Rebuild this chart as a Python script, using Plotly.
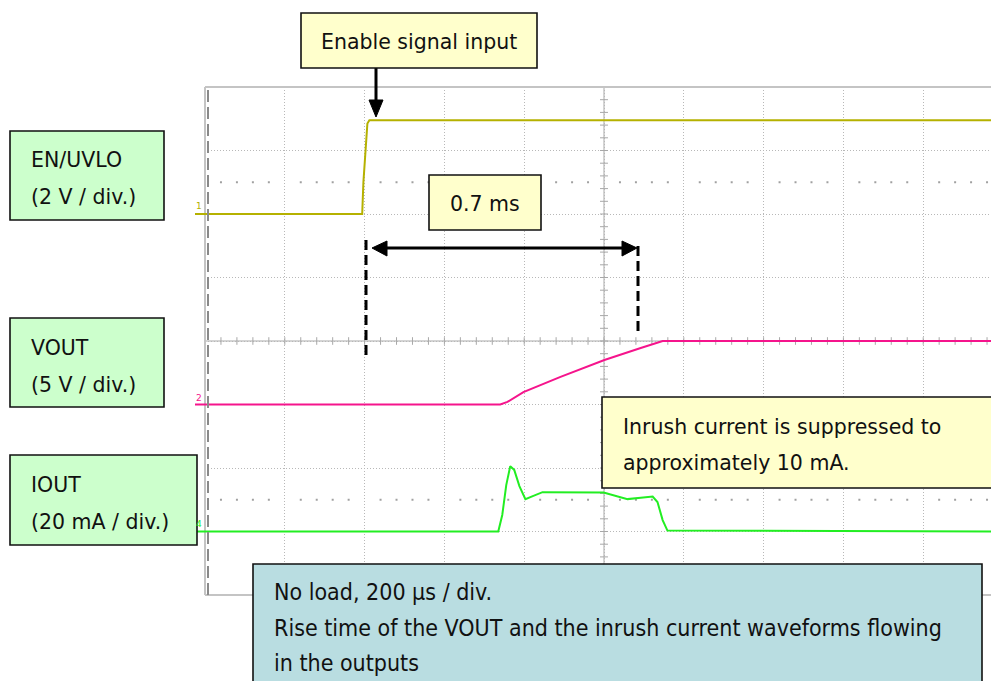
import plotly.graph_objects as go

# ---------------- data ----------------
# time axis: 200 us / div, t = 0 at the left edge of the screen
time_en_us = [0, 394, 397, 402, 407, 412, 2000]
en_uvlo_v = [0, 0, 1.0, 2.0, 2.85, 2.95, 2.95]

time_vout_us = [0, 740, 758, 798, 891, 1001, 1092, 1130, 1147, 2000]
vout_v = [0, 0, 0.2, 0.98, 2.17, 3.5, 4.45, 4.85, 5.0, 5.0]

time_iout_us = [0, 735, 745, 755, 765, 775, 788, 803, 823, 846, 999, 1029,
                1059, 1092, 1109, 1122, 1134, 1147, 1159, 2000]
iout_ma = [0, 0, 5.2, 14.6, 20.6, 19.4, 14.3, 10.2, 11.2, 12.4, 12.3, 11.3,
           10.2, 10.6, 10.9, 11.0, 9.3, 3.6, 0.3, 0]

# channel settings: (volts-or-mA per div, ground offset in divisions)
en_scale, en_offset = 2.0, 2.0
vout_scale, vout_offset = 5.0, -1.0
iout_scale, iout_offset = 20.0, -3.0

time_per_div_us = 200
screen_time_us = 2000

box_texts = {
    "enable": "Enable signal input",
    "delay": "0.7 ms",
    "en": ["EN/UVLO", "(2 V / div.)"],
    "vout": ["VOUT", "(5 V / div.)"],
    "iout": ["IOUT", "(20 mA / div.)"],
    "inrush": ["Inrush current is suppressed to", "approximately 10 mA."],
    "note": ["No load, 200 µs / div.",
             "Rise time of the VOUT and the inrush current waveforms flowing",
             "in the outputs"],
}

# ---------------- layout geometry ----------------
# The page places the figure 8 px from the window's top-left corner,
# so the figure is laid out 8 px up/left of the target positions.
W, H = 999, 681
SH = 8
L, T, B, R = 205, 87, 595, 1003   # screen edges in window pixels
PW = R - L
PH = B - T


def px(p):
    return (p - L) / PW


def py(p):
    return (B - p) / PH


def to_div(vals, scale, offset):
    return [offset + v / scale for v in vals]


fig = go.Figure()

# grid decorations: center-line ticks and dotted rows
grid_col = "#a8a8a8"
tx, ty = [], []
n_minor_x = int(screen_time_us / (time_per_div_us / 5)) + 1
for i in range(n_minor_x):
    t = i * time_per_div_us / 5
    tx += [t, t, None]
    ty += [-0.06, 0.06, None]
for j in range(-20, 21):
    y = j * 0.2
    tx += [1000 - 10, 1000 + 10, None]
    ty += [y, y, None]
fig.add_trace(go.Scatter(x=tx, y=ty, mode="lines",
                         line=dict(color=grid_col, width=1),
                         hoverinfo="skip", showlegend=False))
dx, dy = [], []
for i in range(n_minor_x):
    t = i * time_per_div_us / 5
    if i % 5 == 0:
        continue
    dx += [t, t]
    dy += [2.5, -2.5]
fig.add_trace(go.Scatter(x=dx, y=dy, mode="markers",
                         marker=dict(color="#a0a0a0", size=2, symbol="square"),
                         hoverinfo="skip", showlegend=False))

# waveforms
fig.add_trace(go.Scatter(x=time_en_us, y=to_div(en_uvlo_v, en_scale, en_offset),
                         mode="lines", line=dict(color="#b5b100", width=2),
                         name="EN/UVLO", showlegend=False))
fig.add_trace(go.Scatter(x=time_vout_us, y=to_div(vout_v, vout_scale, vout_offset),
                         mode="lines", line=dict(color="#f5148c", width=2),
                         name="VOUT", showlegend=False))
fig.add_trace(go.Scatter(x=time_iout_us, y=to_div(iout_ma, iout_scale, iout_offset),
                         mode="lines", line=dict(color="#22ee22", width=2),
                         name="IOUT", showlegend=False))

shapes = []
# center lines
shapes.append(dict(type="line", xref="x", yref="paper", x0=1000, x1=1000, y0=0, y1=1,
                   line=dict(color=grid_col, width=1), layer="below"))
shapes.append(dict(type="line", xref="paper", yref="y", x0=0, x1=1, y0=0, y1=0,
                   line=dict(color=grid_col, width=1), layer="below"))
# screen border (left, top, bottom)
for s in [dict(x0=0, x1=0, y0=0, y1=1), dict(x0=0, x1=1, y0=1, y1=1),
          dict(x0=0, x1=1, y0=0, y1=0)]:
    shapes.append(dict(type="line", xref="paper", yref="paper",
                       line=dict(color="#c4c4c4", width=2), **s))
# trigger position marker
shapes.append(dict(type="line", xref="paper", yref="paper", x0=px(208), x1=px(208),
                   y0=0, y1=1, line=dict(color="#8a8a8a", width=2, dash="12px,5px")))

# channel ground markers
for yv, col in [(en_offset, "#b5b100"), (vout_offset, "#f5148c"), (iout_offset, "#22ee22")]:
    shapes.append(dict(type="line", xref="paper", yref="y", x0=px(195), x1=px(206),
                       y0=yv, y1=yv, line=dict(color=col, width=2)))


def box(x0, y0, x1, y1, fill):
    shapes.append(dict(type="rect", xref="paper", yref="paper",
                       x0=px(x0), x1=px(x1), y0=py(y1), y1=py(y0),
                       fillcolor=fill, line=dict(color="#111111", width=1.6),
                       layer="above"))


def tri(points):
    path = "M " + " L ".join(f"{px(a)},{py(b)}" for a, b in points) + " Z"
    shapes.append(dict(type="path", xref="paper", yref="paper", path=path,
                       fillcolor="#000000", line=dict(color="#000000", width=1),
                       layer="above"))


def seg(x0, y0, x1, y1, dash="solid", width=3):
    shapes.append(dict(type="line", xref="paper", yref="paper",
                       x0=px(x0), x1=px(x1), y0=py(y0), y1=py(y1),
                       line=dict(color="#000000", width=width, dash=dash),
                       layer="above"))


# arrows and dashed markers
seg(376, 68, 376, 104)
tri([(369, 100), (383, 100), (376, 117)])
seg(384, 248, 625, 248)
tri([(372, 248), (387, 241), (387, 256)])
tri([(637, 248), (622, 241), (622, 256)])
seg(366, 240, 366, 360, dash="10px,5px")
seg(638, 246, 638, 334, dash="10px,5px")

# boxes
yellow = "#ffffcc"
green = "#ccffcc"
blue = "#b9dde1"
box(301, 13, 537, 68, yellow)
box(429, 175, 541, 230, yellow)
box(10, 131, 164, 220, green)
box(10, 318, 164, 407, green)
box(10, 455, 197, 545, green)
box(602, 397, 1010, 488, yellow)
box(253, 564, 982, 700, blue)

fig.update_layout(shapes=shapes)

main_font = dict(family="DejaVu Sans, Verdana, sans-serif", size=20.5, color="#111111")
cond_font = dict(family="DejaVu Sans Condensed, DejaVu Sans, sans-serif", size=23, color="#111111")
ann = []


def text(x, y, s, anchor="left", font=main_font):
    ann.append(dict(xref="paper", yref="paper", x=px(x), y=py(y), text=s,
                    showarrow=False, xanchor=anchor, yanchor="middle", font=font))


text(419, 42, box_texts["enable"], "center")
text(485, 204, box_texts["delay"], "center")
text(29, 160, box_texts["en"][0])
text(29, 197, box_texts["en"][1])
text(29, 348, box_texts["vout"][0])
text(29, 385, box_texts["vout"][1])
text(29, 485, box_texts["iout"][0])
text(29, 522, box_texts["iout"][1])
text(621, 427, box_texts["inrush"][0])
text(621, 463, box_texts["inrush"][1])
text(272, 592, box_texts["note"][0], font=cond_font)
text(272, 628, box_texts["note"][1], font=cond_font)
text(272, 663, box_texts["note"][2], font=cond_font)

# channel numbers
for yy, s, col in [(206, "1", "#b5b100"), (398, "2", "#f5148c"), (524, "4", "#22ee22")]:
    text(199, yy, s, "center", dict(family="DejaVu Sans", size=9, color=col))

fig.update_layout(
    annotations=ann,
    width=W, height=H,
    margin=dict(l=L - SH, r=W - (R - SH), t=T - SH, b=H - (B - SH), pad=0),
    paper_bgcolor="white", plot_bgcolor="white",
    showlegend=False,
    xaxis=dict(range=[0, screen_time_us], tick0=0, dtick=time_per_div_us,
               showticklabels=False, ticks="", showgrid=True, gridcolor="#b8b8b8",
               griddash="1px,2px", gridwidth=1, zeroline=False, showline=False,
               fixedrange=True),
    yaxis=dict(range=[-4, 4], tick0=0, dtick=1, showticklabels=False, ticks="",
               showgrid=True, gridcolor="#b8b8b8", griddash="1px,2px", gridwidth=1,
               zeroline=False, showline=False, fixedrange=True),
)

fig.write_html("out.html")
